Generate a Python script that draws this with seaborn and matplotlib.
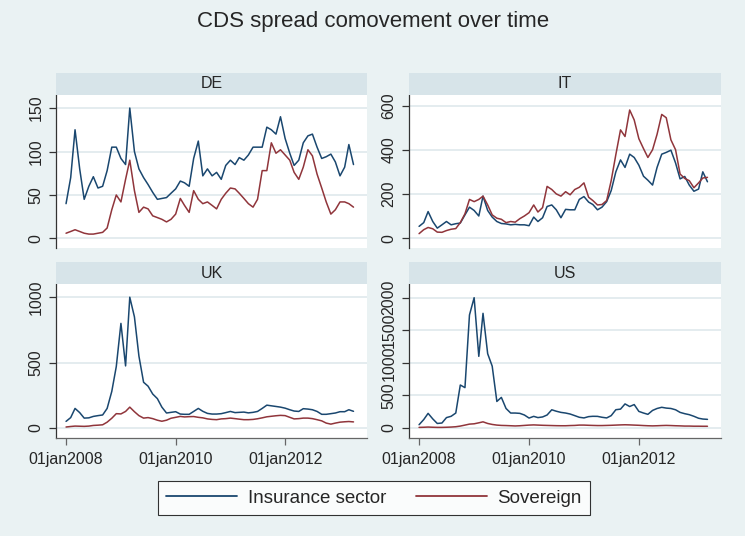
import seaborn as sns
import matplotlib.pyplot as plt
import pandas as pd
from matplotlib.patches import Rectangle

# monthly readings, Jan 2008 .. Apr 2013
dates = pd.date_range("2008-01-01", periods=64, freq="MS")

de_ins = [40, 70, 125, 80, 45, 60, 71, 58, 60, 78,
          105, 105, 92, 85, 150, 100, 80, 70, 62, 53,
          45, 46, 47, 52, 57, 66, 64, 60, 92, 112,
          72, 80, 72, 76, 68, 84, 90, 85, 93, 90,
          96, 105, 105, 105, 128, 125, 120, 140, 115, 98,
          84, 90, 110, 118, 120, 105, 92, 94, 97, 88,
          72, 82, 108, 85]
de_sov = [6, 8, 10, 8, 6, 5, 5, 6, 7, 12,
          33, 50, 42, 68, 90, 55, 30, 36, 34, 26,
          24, 22, 19, 22, 28, 46, 38, 30, 55, 45,
          40, 42, 38, 34, 45, 52, 58, 57, 52, 46,
          40, 36, 45, 78, 78, 110, 98, 102, 96, 90,
          76, 68, 82, 102, 95, 74, 58, 42, 28, 33,
          42, 42, 40, 36]
it_ins = [53, 70, 120, 75, 45, 60, 75, 60, 65, 68,
          105, 140, 125, 100, 190, 125, 95, 75, 66, 64,
          60, 62, 60, 60, 56, 95, 75, 92, 143, 150,
          128, 92, 130, 128, 128, 175, 188, 163, 152, 128,
          140, 165, 215, 300, 354, 320, 380, 365, 330, 280,
          262, 240, 320, 380, 388, 398, 340, 268, 279, 240,
          212, 222, 300, 255]
it_sov = [20, 38, 48, 42, 27, 26, 34, 40, 43, 70,
          110, 175, 165, 175, 190, 150, 105, 90, 85, 70,
          75, 72, 88, 100, 115, 150, 118, 138, 234, 220,
          200, 190, 210, 196, 220, 230, 250, 185, 170, 150,
          152, 170, 260, 378, 490, 460, 580, 535, 450, 405,
          365, 400, 470, 560, 545, 445, 400, 290, 270, 260,
          228, 250, 272, 275]
uk_ins = [51, 80, 150, 118, 76, 78, 89, 95, 100, 150,
          280, 470, 800, 475, 1000, 850, 550, 350, 320, 260,
          225, 160, 115, 120, 125, 107, 105, 105, 127, 150,
          128, 112, 107, 107, 110, 118, 127, 118, 120, 122,
          116, 120, 127, 150, 175, 170, 165, 160, 152, 140,
          130, 127, 148, 145, 140, 127, 105, 105, 110, 115,
          125, 125, 140, 128]
uk_sov = [8, 12, 15, 14, 13, 15, 20, 22, 25, 45,
          75, 110, 108, 127, 160, 125, 95, 76, 80, 72,
          60, 52, 60, 75, 82, 89, 85, 87, 88, 82,
          78, 70, 66, 64, 70, 72, 76, 72, 68, 64,
          64, 66, 71, 78, 86, 90, 94, 97, 95, 82,
          70, 72, 76, 76, 72, 64, 55, 38, 30, 38,
          45, 48, 50, 47]
us_ins = [51, 130, 225, 140, 70, 77, 160, 180, 230, 660,
          620, 1735, 2000, 1100, 1760, 1140, 950, 408, 470, 300,
          230, 230, 225, 200, 153, 179, 160, 170, 200, 280,
          258, 240, 230, 215, 190, 165, 155, 175, 180, 179,
          165, 155, 190, 281, 290, 370, 330, 360, 255, 230,
          210, 270, 300, 318, 306, 300, 280, 240, 220, 205,
          180, 150, 138, 133]
us_sov = [10, 12, 15, 12, 10, 10, 12, 15, 20, 30,
          45, 60, 65, 80, 95, 70, 55, 45, 40, 38,
          35, 32, 35, 40, 45, 48, 45, 42, 40, 38,
          36, 35, 35, 38, 40, 45, 45, 42, 40, 38,
          38, 40, 42, 45, 48, 50, 48, 45, 42, 38,
          35, 33, 35, 38, 40, 38, 35, 33, 30, 30,
          28, 28, 27, 27]

countries = ["DE", "IT", "UK", "US"]
insurance = {"DE": de_ins, "IT": it_ins, "UK": uk_ins, "US": us_ins}
sovereign = {"DE": de_sov, "IT": it_sov, "UK": uk_sov, "US": us_sov}
y_ticks = {"DE": [0, 50, 100, 150], "IT": [0, 200, 400, 600],
           "UK": [0, 500, 1000], "US": [0, 500, 1000, 1500, 2000]}
x_ticks = ["2008-01-01", "2010-01-01", "2012-01-01"]
x_tick_labels = ["01jan2008", "01jan2010", "01jan2012"]
series_names = ["Insurance sector", "Sovereign"]

rows = []
for c in countries:
    for d, a, b in zip(dates, insurance[c], sovereign[c]):
        rows.append((c, d, series_names[0], a))
        rows.append((c, d, series_names[1], b))
df = pd.DataFrame(rows, columns=["country", "date", "series", "value"])

sns.set_style("white")
plt.rcParams["font.family"] = ["Liberation Sans", "DejaVu Sans"]

bg = "#EAF2F3"
strip_col = "#D7E4E9"
palette = {"Insurance sector": "#1A476F", "Sovereign": "#90353B"}

W, H = 745, 536
fig = plt.figure(figsize=(W / 100, H / 100), dpi=100, facecolor=bg)

# pixel boxes: (left, right, top, bottom)
boxes = {"DE": (56, 367, 95, 248), "IT": (409, 721, 95, 248),
         "UK": (56, 367, 284, 438), "US": (409, 721, 284, 438)}
ylims = {"DE": (-11, 165), "IT": (-45, 648), "UK": (-76, 1101), "US": (-153, 2210)}

handles = None
for c in countries:
    l, r, t, b = boxes[c]
    ax = fig.add_axes([l / W, 1 - b / H, (r - l) / W, (b - t) / H])
    ax.set_facecolor("white")
    sns.lineplot(data=df[df.country == c], x="date", y="value", hue="series",
                 palette=palette, linewidth=1.1, ax=ax)
    if handles is None:
        handles, labels = ax.get_legend_handles_labels()
    ax.get_legend().remove()

    ax.set_xlim(pd.Timestamp("2007-10-26"), pd.Timestamp("2013-06-30"))
    ax.set_ylim(*ylims[c])
    ax.set_yticks(y_ticks[c])
    ax.set_yticklabels([str(v) for v in y_ticks[c]])
    ax.set_xlabel("")
    ax.set_ylabel("")
    ax.yaxis.grid(True, color="#E2EBEE", linewidth=1.3)
    ax.xaxis.grid(False)
    ax.set_axisbelow(True)
    for s in ["top", "right"]:
        ax.spines[s].set_visible(False)
    ax.spines["left"].set_color("#333333")
    ax.spines["left"].set_linewidth(0.9)
    ax.tick_params(axis="y", labelrotation=90, length=5, width=0.9,
                   color="#333333", pad=4, labelsize=11.5, left=True)
    for lbl in ax.get_yticklabels():
        lbl.set_va("center")

    if c in ["UK", "US"]:
        ax.spines["bottom"].set_color("#666666")
        ax.spines["bottom"].set_linewidth(0.9)
        ax.set_xticks([pd.Timestamp(x) for x in x_ticks])
        ax.set_xticklabels(x_tick_labels)
        ax.tick_params(axis="x", length=5, width=0.9, color="#666666",
                       pad=5, labelsize=11.5, bottom=True)
    else:
        ax.spines["bottom"].set_visible(False)
        ax.set_xticks([])

    # strip header
    fig.patches.append(Rectangle((l / W, 1 - t / H), (r - l) / W, 22 / H,
                                 transform=fig.transFigure, facecolor=strip_col,
                                 edgecolor="none", zorder=0))
    fig.text((l + r) / 2 / W, 1 - (t - 11) / H, c, ha="center", va="center",
             fontsize=11.5)

fig.text(373 / W, 1 - 21 / H, "CDS spread comovement over time",
         ha="center", va="center", fontsize=16)

leg = fig.legend(handles, labels, loc="center", bbox_to_anchor=(374 / W, 1 - 498 / H),
                 ncol=2, frameon=True, fancybox=False, fontsize=13.5,
                 handlelength=3.8, handletextpad=0.55, columnspacing=1.6,
                 borderpad=0.45)
leg.get_frame().set_edgecolor("black")
leg.get_frame().set_linewidth(0.8)
for line in leg.get_lines():
    line.set_linewidth(1.3)

fig.savefig("out.png", dpi=100, facecolor=bg)
